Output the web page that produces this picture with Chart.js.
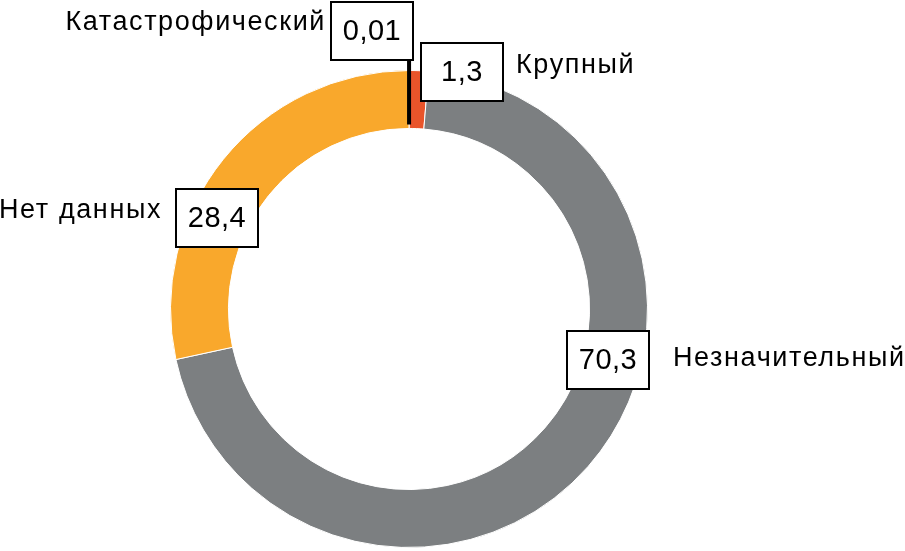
<!DOCTYPE html>
<html>
<head>
<meta charset="utf-8">
<script src="https://cdn.jsdelivr.net/npm/chart.js@4/dist/chart.umd.min.js"></script>
<style>
  html, body { margin: 0; padding: 0; background: #fff; }
  #wrap { width: 905px; height: 551px; position: relative; }
</style>
</head>
<body>
<div id="wrap"><canvas id="donut"></canvas></div>
<script>
const categories = ["Катастрофический", "Крупный", "Незначительный", "Нет данных"];
const values = [0.01, 1.3, 70.3, 28.4];
const valueLabels = ["0,01", "1,3", "70,3", "28,4"];

const color = {
  Black: "#000000",
  Red: "#E9542A",
  Gray: "#7C7F81",
  Orange: "#F9A82C",
};

// where each label box / category name sits, relative to the ring centre
const labelLayout = [
  { box: [-37, -278], name: [-83, -279], align: "right", leader: true },
  { box: [53, -237], name: [107, -236], align: "left", leader: false },
  { box: [199, 51], name: [264, 57], align: "left", leader: false },
  { box: [-192, -91], name: [-247, -91], align: "right", leader: false },
];

const labelPlugin = {
  id: "boxLabels",
  afterDatasetsDraw(chart) {
    const ctx = chart.ctx;
    const arcs = chart.getDatasetMeta(0).data;
    ctx.save();
    arcs.forEach((arc, i) => {
      const lay = labelLayout[i];
      const cx = arc.x, cy = arc.y;
      const bx = cx + lay.box[0], by = cy + lay.box[1];
      const bw = 82, bh = 58;

      if (lay.leader) {
        const a = (arc.startAngle + arc.endAngle) / 2;
        ctx.strokeStyle = "#000";
        ctx.lineWidth = 4;
        ctx.beginPath();
        ctx.moveTo(cx + Math.cos(a) * (arc.innerRadius + 4), cy + Math.sin(a) * (arc.innerRadius + 4));
        ctx.lineTo(cx + Math.cos(a) * arc.outerRadius, by + bh / 2);
        ctx.stroke();
      }

      ctx.fillStyle = "#fff";
      ctx.fillRect(bx - bw / 2, by - bh / 2, bw, bh);
      ctx.strokeStyle = "#000";
      ctx.lineWidth = 2;
      ctx.strokeRect(bx - bw / 2, by - bh / 2, bw, bh);

      ctx.fillStyle = "#000";
      ctx.font = '29px "Liberation Sans", Arial, sans-serif';
      ctx.letterSpacing = "0.5px";
      ctx.textAlign = "center";
      ctx.textBaseline = "middle";
      ctx.fillText(valueLabels[i], bx, by + 1);

      ctx.font = '27px "Liberation Sans", Arial, sans-serif';
      ctx.letterSpacing = "1.6px";
      ctx.textAlign = lay.align;
      ctx.textBaseline = "alphabetic";
      ctx.fillText(categories[i], cx + lay.name[0], cy + lay.name[1]);
    });
    ctx.restore();
  },
};

const donutConfig = {
  type: "doughnut",
  data: {
    labels: categories,
    datasets: [
      {
        data: values,
        backgroundColor: [color.Black, color.Red, color.Gray, color.Orange],
        borderColor: "#ffffff",
        borderWidth: 1,
      },
    ],
  },
  options: {
    responsive: true,
    maintainAspectRatio: false,
    animation: false,
    events: [],
    cutout: "75.7%",
    layout: {
      padding: { top: 70, bottom: 3, left: 170, right: 257 },
    },
    plugins: {
      legend: { display: false },
      tooltip: { enabled: false },
    },
  },
  plugins: [labelPlugin],
};

const myDonut = new Chart(document.getElementById("donut"), donutConfig);
</script>
</body>
</html>
